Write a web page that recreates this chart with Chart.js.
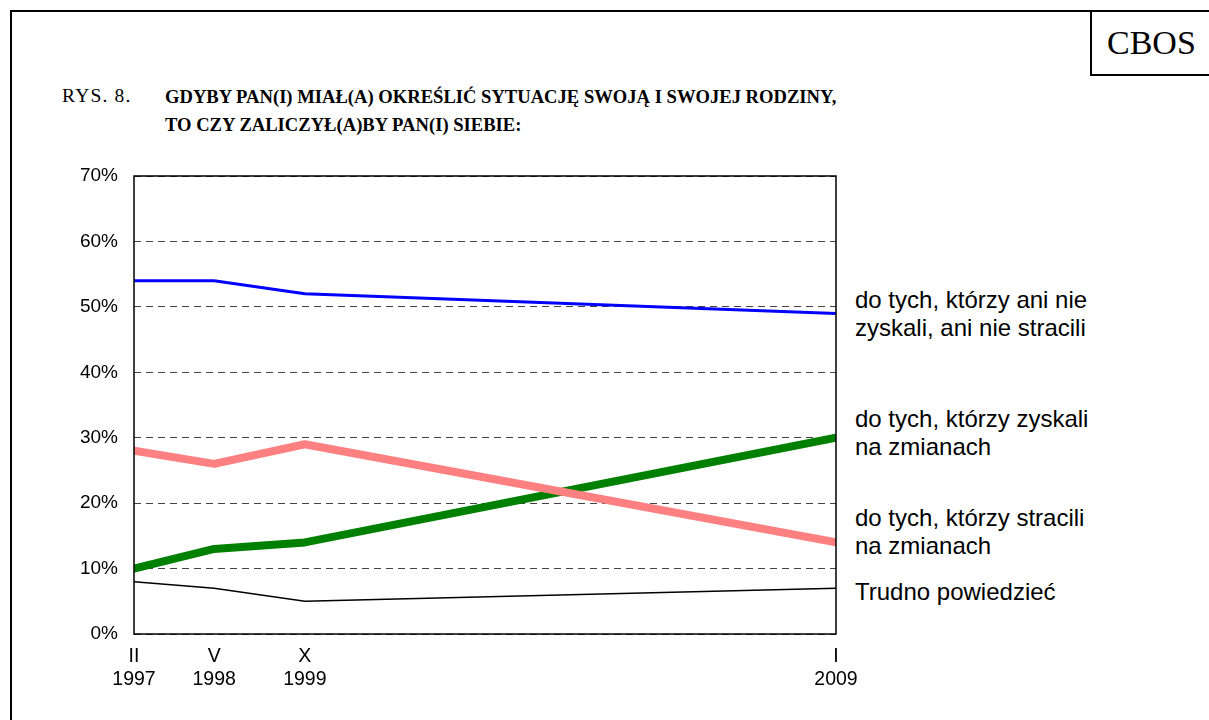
<!DOCTYPE html>
<html><head><meta charset="utf-8">
<script src="https://cdn.jsdelivr.net/npm/chart.js@4.4.1/dist/chart.umd.min.js"></script>
<style>
html,body{margin:0;padding:0;background:#fff;width:1209px;height:720px;overflow:hidden;position:relative;}
#frame{position:absolute;left:10px;top:10px;width:1210px;height:720px;border-left:2px solid #000;border-top:2px solid #000;box-sizing:border-box;}
#cbos{position:absolute;left:1090px;top:10px;width:130px;height:66px;border-left:2px solid #000;border-bottom:2px solid #000;border-top:2px solid #000;box-sizing:border-box;font-family:"Liberation Serif","Times New Roman",serif;font-size:34px;line-height:62px;padding-left:15px;}
.t{position:absolute;font-family:"Liberation Serif","Times New Roman",serif;font-size:18.6px;color:#000;white-space:nowrap;}
.lab{position:absolute;left:855px;font-family:"Liberation Sans",Arial,sans-serif;font-size:24px;line-height:28px;color:#000;white-space:nowrap;}
canvas{position:absolute;left:0;top:0;}
</style></head>
<body>
<div id="frame"></div>
<div id="cbos">CBOS</div>
<div class="t" style="left:62px;top:85px;font-size:19.5px;letter-spacing:1.2px;">RYS. 8.</div>
<div class="t" style="left:165px;top:86px;font-weight:bold;">GDYBY PAN(I) MIAŁ(A) OKREŚLIĆ SYTUACJĘ SWOJĄ I SWOJEJ RODZINY,</div>
<div class="t" style="left:165px;top:114px;font-weight:bold;">TO CZY ZALICZYŁ(A)BY PAN(I) SIEBIE:</div>
<div class="lab" style="top:286px;">do tych, którzy ani nie<br>zyskali, ani nie stracili</div>
<div class="lab" style="top:405px;">do tych, którzy zyskali<br>na zmianach</div>
<div class="lab" style="top:504px;">do tych, którzy stracili<br>na zmianach</div>
<div class="lab" style="top:578px;">Trudno powiedzieć</div>
<canvas id="c" width="1209" height="720"></canvas>
<script>
// survey moments (position on the time axis, years since II 1997)
const surveyX = [0, 1.37, 2.92, 12];
const tickMonths = ["II", "V", "X", "I"];
const tickYears = ["1997", "1998", "1999", "2009"];
const neither = [54, 54, 52, 49];
const gained = [10, 13, 14, 30];
const lost = [28, 26, 29, 14];
const hardToSay = [8, 7, 5, 7];
const yTicks = [0, 10, 20, 30, 40, 50, 60, 70];

const pts = arr => arr.map((v, i) => ({x: surveyX[i], y: v}));

const frame = {
  id: 'frame',
  afterDatasetsDraw(chart) {
    const a = chart.chartArea, ctx = chart.ctx;
    ctx.save();
    ctx.strokeStyle = '#000';
    ctx.lineWidth = 1.5;
    ctx.strokeRect(a.left, a.top, a.right - a.left, a.bottom - a.top);
    ctx.restore();
  }
};

new Chart(document.getElementById('c'), {
  type: 'line',
  data: {
    datasets: [
      {data: pts(hardToSay), borderColor: '#000', borderWidth: 1.5},
      {data: pts(lost), borderColor: '#FF8080', borderWidth: 8, borderCapStyle: 'round', borderJoinStyle: 'round'},
      {data: pts(gained), borderColor: '#008000', borderWidth: 8, borderCapStyle: 'round', borderJoinStyle: 'round'},
      {data: pts(neither), borderColor: '#0000FF', borderWidth: 3}
    ]
  },
  options: {
    responsive: false,
    animation: false,
    events: [],
    layout: {padding: {top: 176, right: 373, left: 0, bottom: 0}},
    elements: {point: {radius: 0}, line: {tension: 0}},
    plugins: {legend: {display: false}, tooltip: {enabled: false}},
    scales: {
      x: {
        type: 'linear', min: 0, max: 12,
        afterBuildTicks: s => { s.ticks = surveyX.map(v => ({value: v})); },
        afterFit: s => { s.height = 86; },
        grid: {display: false, drawTicks: false},
        border: {display: false},
        ticks: {
          autoSkip: false, maxRotation: 0, padding: 11, color: '#000',
          font: {family: 'Liberation Sans', size: 19.5, lineHeight: 1.2},
          callback: (v, i) => [tickMonths[i], tickYears[i]]
        }
      },
      y: {
        min: 0, max: 70,
        afterBuildTicks: s => { s.ticks = yTicks.map(v => ({value: v})); },
        afterFit: s => { s.width = 134; },
        grid: {color: '#444', lineWidth: 1, drawTicks: false},
        border: {display: false, dash: [7, 5]},
        ticks: {
          padding: 16, color: '#000',
          font: {family: 'Liberation Sans', size: 19},
          callback: v => v + '%'
        }
      }
    }
  },
  plugins: [frame]
});
</script>
</body></html>
